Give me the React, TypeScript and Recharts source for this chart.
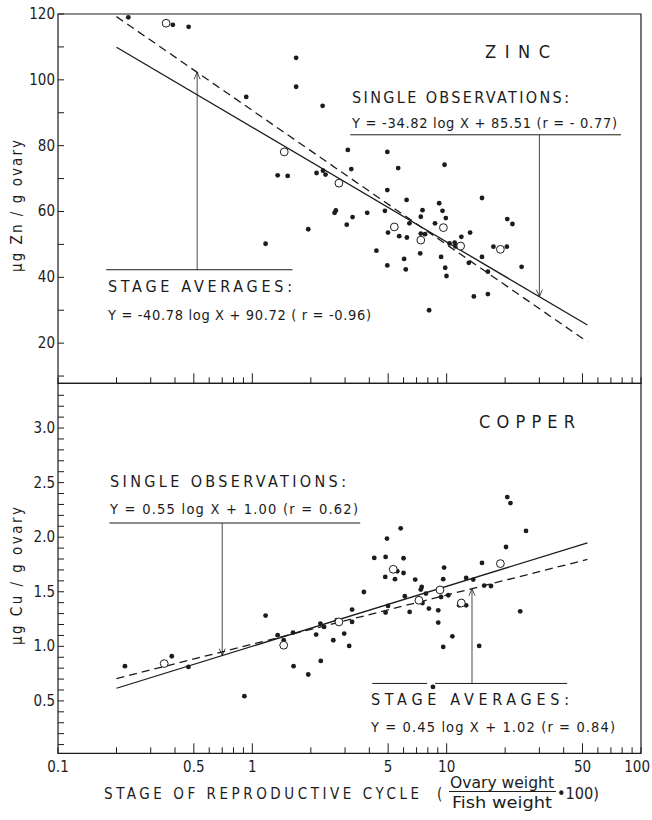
import React from "react";
import {
  ComposedChart,
  XAxis,
  YAxis,
  Scatter,
  Line,
  ReferenceLine,
  ReferenceArea,
} from "recharts";

const FONT = "'DejaVu Sans Condensed', 'Liberation Sans Narrow', sans-serif";
const INK = "#1c1c1c";

// shared log x axis
const xTicks = [0.1, 0.2, 0.3, 0.4, 0.5, 0.6, 0.7, 0.8, 0.9, 1, 2, 3, 4, 5, 6, 7, 8, 9, 10, 20, 30, 40, 50, 60, 70, 80, 90, 100];
const xMajor = [0.5, 1, 5, 10, 50];
const xLabels = [0.1, 0.5, 1, 5, 10, 50, 100];

// ZINC
const zincTicks = [10, 20, 30, 40, 50, 60, 70, 80, 90, 100, 110, 120];
const zincLabels = [20, 40, 60, 80, 100, 120];
const zincObsX = [0.23, 0.39, 0.47, 0.93, 1.68, 1.68, 2.3, 1.35, 1.52, 1.17, 1.94, 2.14, 2.31, 2.38, 2.65, 2.69, 3.06, 3.28, 3.1, 3.23, 3.9, 4.35, 4.81, 4.95, 4.95, 4.99, 4.95, 5.63, 5.7, 6.04, 6.16, 6.22, 6.24, 6.43, 7.36, 7.51, 7.31, 7.36, 7.74, 8.71, 9.15, 9.52, 9.9, 9.75, 9.36, 9.83, 9.98, 8.12, 10.35, 11.0, 11.9, 11.1, 13.2, 13.0, 13.8, 15.2, 15.2, 16.3, 16.3, 17.4, 20.4, 20.5, 21.8, 24.3];
const zincObsY = [119.0, 116.7, 116.1, 94.8, 106.7, 97.9, 92.1, 71.0, 70.8, 50.2, 54.6, 71.7, 72.4, 71.2, 59.6, 60.3, 56.0, 58.3, 78.7, 72.9, 59.6, 48.1, 60.2, 78.1, 66.5, 53.6, 43.6, 73.2, 52.5, 45.6, 42.4, 63.5, 52.1, 56.4, 58.4, 60.4, 47.3, 53.3, 53.1, 56.4, 62.5, 60.2, 58.0, 74.2, 46.2, 42.9, 40.4, 30.0, 50.3, 50.5, 52.3, 49.4, 53.6, 44.4, 34.2, 64.1, 46.2, 41.7, 34.9, 49.3, 49.3, 57.7, 56.2, 43.2];
const zincAvgX = [0.36, 1.46, 2.79, 5.38, 7.36, 9.62, 11.8, 18.9];
const zincAvgY = [117.2, 78.1, 68.6, 55.3, 51.3, 55.1, 49.5, 48.5];
const fitX = [0.2, 53];
const zincObsFit = [109.9, 25.5];
const zincAvgFit = [119.2, 20.4];

// COPPER
const copperTicks = [0.1, 0.2, 0.3, 0.4, 0.5, 0.6, 0.7, 0.8, 0.9, 1.0, 1.1, 1.2, 1.3, 1.4, 1.5, 1.6, 1.7, 1.8, 1.9, 2.0, 2.1, 2.2, 2.3, 2.4, 2.5, 2.6, 2.7, 2.8, 2.9, 3.0, 3.1, 3.2, 3.3];
const copperLabels = [0.5, 1.0, 1.5, 2.0, 2.5, 3.0];
const copperObsX = [0.221, 0.385, 0.469, 0.91, 1.17, 1.35, 1.45, 1.62, 1.63, 1.94, 2.13, 2.24, 2.34, 2.25, 2.61, 2.72, 2.97, 3.15, 3.26, 3.26, 3.75, 4.24, 4.83, 4.85, 4.93, 4.85, 4.99, 5.42, 5.57, 5.8, 6.0, 6.0, 6.09, 6.45, 6.89, 7.36, 7.44, 7.51, 7.82, 8.1, 8.5, 9.05, 9.05, 9.36, 9.6, 9.7, 9.6, 10.2, 10.7, 11.6, 12.6, 12.6, 13.7, 14.7, 15.2, 15.6, 16.9, 20.2, 20.5, 21.3, 23.9, 25.6];
const copperObsY = [0.818, 0.909, 0.811, 0.543, 1.282, 1.102, 1.056, 1.126, 0.818, 0.742, 1.108, 1.209, 1.178, 0.866, 1.056, 1.239, 1.117, 1.004, 1.337, 1.224, 1.498, 1.81, 1.636, 1.819, 1.987, 1.309, 1.37, 1.615, 1.688, 2.081, 1.807, 1.672, 1.459, 1.315, 1.612, 1.52, 1.544, 1.397, 1.483, 1.346, 0.628, 1.33, 1.218, 1.452, 1.615, 1.722, 0.995, 1.468, 1.092, 1.376, 1.376, 1.627, 1.612, 1.004, 1.764, 1.557, 1.553, 1.91, 2.368, 2.313, 1.321, 2.057];
const copperAvgX = [0.352, 1.45, 2.79, 5.31, 7.2, 9.24, 11.9, 18.9];
const copperAvgY = [0.842, 1.01, 1.224, 1.706, 1.422, 1.517, 1.397, 1.758];
const copperObsFit = [0.616, 1.948];
const copperAvgFit = [0.705, 1.796];

// annotation anchors (data coordinates)
const zincObsRule = { x1: 3.19, x2: 78.9, y: 83.3, arrowX: 30, arrowY: 34.1 };
const zincAvgRule = { x1: 0.177, x2: 1.61, y: 42.3, arrowX: 0.52, arrowY: 102.3 };
const copperObsRule = { x1: 0.184, x2: 3.59, y: 2.13, arrowX: 0.7, arrowY: 0.915 };
const copperAvgRule = { x1: 4.14, x1b: 8.73, x2a: 7.94, x2: 41.7, y: 0.66, arrowX: 13.5, arrowY: 1.528 };

const toPts = (xs: number[], ys: number[]) => xs.map((x, i) => ({ x, y: ys[i] }));

const Dot = (p: any) => <circle cx={p.cx} cy={p.cy} r={2.4} fill={INK} />;
const Ring = (p: any) => <circle cx={p.cx} cy={p.cy} r={3.9} fill="#fff" stroke={INK} strokeWidth={1} />;

const Arrow = (p: any) => {
  const { x1, y1, x2, y2 } = p;
  const dir = y2 > y1 ? 1 : -1;
  return (
    <g>
      <line x1={x1} y1={y1} x2={x2} y2={y2} stroke={INK} strokeWidth={0.8} />
      <polyline points={`${x2 - 3},${y2 - dir * 7} ${x2},${y2} ${x2 + 3},${y2 - dir * 7}`} fill="none" stroke={INK} strokeWidth={0.8} />
    </g>
  );
};

const XTick = (showLabels: boolean) => (p: any) => {
  const v = p.payload.value;
  const len = xMajor.includes(v) ? 10 : 6;
  const last = v === 100;
  return (
    <g>
      <line x1={p.x} x2={p.x} y1={p.y} y2={p.y - len} stroke={INK} strokeWidth={1} />
      {showLabels && xLabels.includes(v) && (
        <text
          x={last ? p.x + 9 : p.x}
          y={p.y + 19}
          textAnchor={last ? "end" : "middle"}
          fontFamily={FONT}
          fontSize={15}
          fill={INK}
        >
          {String(v)}
        </text>
      )}
    </g>
  );
};

const YTick = (labels: number[], fmt: (v: number) => string) => (p: any) => {
  const v = p.payload.value;
  return (
    <g>
      <line x1={p.x} x2={p.x + 6} y1={p.y} y2={p.y} stroke={INK} strokeWidth={1} />
      {labels.some((l) => Math.abs(l - v) < 1e-6) && (
        <text x={p.x - 3} y={p.y + 5} textAnchor="end" fontFamily={FONT} fontSize={15} fill={INK}>
          {fmt(v)}
        </text>
      )}
    </g>
  );
};

type PanelProps = {
  top: number;
  height: number;
  margin: { top: number; right: number; bottom: number; left: number };
  yDomain: [number, number];
  yTicks: number[];
  yLabels: number[];
  fmt: (v: number) => string;
  obs: { x: number; y: number }[];
  avg: { x: number; y: number }[];
  obsFit: { x: number; y: number }[];
  avgFit: { x: number; y: number }[];
  showXLabels: boolean;
  children?: React.ReactNode;
};

function Panel(props: PanelProps) {
  const { top, height, margin, yDomain } = props;
  return (
    <div style={{ position: "absolute", left: 0, top }}>
      <ComposedChart width={652} height={height} margin={margin}>
        <XAxis
          dataKey="x"
          type="number"
          scale="log"
          domain={[0.1, 100]}
          allowDataOverflow
          ticks={xTicks}
          interval={0}
          tickSize={0}
          tickMargin={0}
          height={1}
          axisLine={false}
          tickLine={false}
          tick={XTick(props.showXLabels)}
        />
        <YAxis
          dataKey="y"
          type="number"
          domain={yDomain}
          allowDataOverflow
          ticks={props.yTicks}
          interval={0}
          tickSize={0}
          tickMargin={0}
          width={58}
          axisLine={false}
          tickLine={false}
          tick={YTick(props.yLabels, props.fmt)}
        />
        <ReferenceArea x1={0.1} x2={100} y1={yDomain[0]} y2={yDomain[1]} fill="none" stroke={INK} strokeWidth={1.2} />
        {props.children}
        <Line data={props.obsFit} dataKey="y" stroke={INK} strokeWidth={1.3} dot={false} isAnimationActive={false} />
        <Line data={props.avgFit} dataKey="y" stroke={INK} strokeWidth={1.3} strokeDasharray="8 5" dot={false} isAnimationActive={false} />
        <Scatter data={props.obs} dataKey="y" shape={Dot} isAnimationActive={false} />
        <Scatter data={props.avg} dataKey="y" shape={Ring} isAnimationActive={false} />
      </ComposedChart>
    </div>
  );
}

const T = (p: { x: number; y: number; w?: number; size?: number; children: React.ReactNode; adj?: string }) => (
  <text
    x={p.x}
    y={p.y}
    fontFamily={FONT}
    fontSize={p.size ?? 16}
    fill={INK}
    textLength={p.w}
    lengthAdjust={(p.adj ?? "spacing") as any}
  >
    {p.children}
  </text>
);

export default function App() {
  const rule = (r: { x1: number; x2: number; y: number }, k: string) => (
    <ReferenceLine key={k} segment={[{ x: r.x1, y: r.y }, { x: r.x2, y: r.y }]} stroke={INK} strokeWidth={1} ifOverflow="visible" />
  );
  const arrow = (r: { arrowX: number; y: number; arrowY: number }, k: string) => (
    <ReferenceLine key={k} segment={[{ x: r.arrowX, y: r.y }, { x: r.arrowX, y: r.arrowY }]} shape={Arrow} ifOverflow="visible" />
  );
  return (
    <div style={{ position: "absolute", left: 0, top: 0, width: 652, height: 820, background: "#fff" }}>
      <Panel
        top={0}
        height={386}
        margin={{ top: 14, right: 11, bottom: 1.7, left: 0 }}
        yDomain={[7.8, 120]}
        yTicks={zincTicks}
        yLabels={zincLabels}
        fmt={(v) => String(v)}
        obs={toPts(zincObsX, zincObsY)}
        avg={toPts(zincAvgX, zincAvgY)}
        obsFit={toPts(fitX, zincObsFit)}
        avgFit={toPts(fitX, zincAvgFit)}
        showXLabels={false}
      >
        {rule(zincObsRule, "zr1")}
        {arrow(zincObsRule, "za1")}
        {rule(zincAvgRule, "zr2")}
        {arrow(zincAvgRule, "za2")}
      </Panel>
      <Panel
        top={380}
        height={440}
        margin={{ top: 3.3, right: 11, bottom: 65.7, left: 0 }}
        yDomain={[0.02, 3.41]}
        yTicks={copperTicks}
        yLabels={copperLabels}
        fmt={(v) => v.toFixed(1)}
        obs={toPts(copperObsX, copperObsY)}
        avg={toPts(copperAvgX, copperAvgY)}
        obsFit={toPts(fitX, copperObsFit)}
        avgFit={toPts(fitX, copperAvgFit)}
        showXLabels={true}
      >
        {rule(copperObsRule, "cr1")}
        {arrow(copperObsRule, "ca1")}
        {rule({ x1: copperAvgRule.x1, x2: copperAvgRule.x2a, y: copperAvgRule.y }, "cr2")}
        {rule({ x1: copperAvgRule.x1b, x2: copperAvgRule.x2, y: copperAvgRule.y }, "cr3")}
        {arrow(copperAvgRule, "ca2")}
      </Panel>

      <svg width={652} height={820} style={{ position: "absolute", left: 0, top: 0, pointerEvents: "none" }}>
        {/* zinc panel texts */}
        <T x={485} y={58} w={65} size={18}>ZINC</T>
        <T x={352} y={103} w={217}>SINGLE OBSERVATIONS:</T>
        <T x={352} y={128} w={265} size={14.5}>Y = -34.82 log X + 85.51  (r = - 0.77)</T>
        <T x={108} y={292} w={184}>STAGE AVERAGES:</T>
        <T x={108} y={320} w={263} size={14.5}>Y = -40.78 log X + 90.72 ( r = -0.96)</T>
        <text transform="translate(22,206) rotate(-90)" textAnchor="middle" fontFamily={FONT} fontSize={15} fill={INK} textLength={132} lengthAdjust="spacing">
          µg Zn / g ovary
        </text>

        {/* copper panel texts */}
        <T x={479} y={428} w={96} size={18}>COPPER</T>
        <T x={110} y={487} w={236}>SINGLE OBSERVATIONS:</T>
        <T x={110} y={514} w={248} size={14.5}>Y = 0.55 log X + 1.00  (r = 0.62)</T>
        <T x={371} y={705} w={198}>STAGE AVERAGES:</T>
        <T x={371} y={732} w={244} size={14.5}>Y = 0.45 log X + 1.02  (r = 0.84)</T>
        <text transform="translate(22,576) rotate(-90)" textAnchor="middle" fontFamily={FONT} fontSize={15} fill={INK} textLength={138} lengthAdjust="spacing">
          µg Cu / g ovary
        </text>

        {/* x axis title */}
        <T x={104} y={799} w={315} size={15}>STAGE OF REPRODUCTIVE CYCLE</T>
        <T x={437} y={799} size={15}>(</T>
        <T x={450} y={788} w={104} size={15} adj="spacingAndGlyphs">Ovary weight</T>
        <line x1={449} x2={556} y1={791.5} y2={791.5} stroke={INK} strokeWidth={1} />
        <T x={452} y={808} w={100} size={15} adj="spacingAndGlyphs">Fish weight</T>
        <T x={557} y={799} w={42} size={15} adj="spacingAndGlyphs">•100)</T>
      </svg>
    </div>
  );
}
